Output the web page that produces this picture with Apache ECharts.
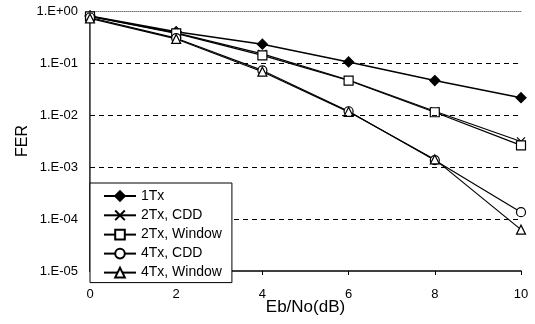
<!DOCTYPE html>
<html>
<head>
<meta charset="utf-8">
<script src="https://cdn.jsdelivr.net/npm/echarts@6/dist/echarts.min.js"></script>
<style>
html,body{margin:0;padding:0;background:#fff;}
#chart{width:535px;height:324px;}
</style>
</head>
<body>
<div id="chart"></div>
<script>
// ---- data ----
var xValues = [0, 2, 4, 6, 8, 10];
var seriesNames = ['1Tx', '2Tx, CDD', '2Tx, Window', '4Tx, CDD', '4Tx, Window'];
var tx1 = [0.80, 0.40, 0.23, 0.105, 0.046, 0.0215];
var tx2cdd = [0.80, 0.38, 0.15, 0.047, 0.0118, 0.0031];
var tx2win = [0.79, 0.37, 0.14, 0.046, 0.0113, 0.0026];
var tx4cdd = [0.75, 0.30, 0.072, 0.0118, 0.00135, 0.000135];
var tx4win = [0.72, 0.29, 0.068, 0.0115, 0.0014, 0.0000625];
var yTickLabels = ['1.E-05', '1.E-04', '1.E-03', '1.E-02', '1.E-01', '1.E+00'];
var xTickLabels = ['0', '2', '4', '6', '8', '10'];
var gridLevels = [1e-1, 1e-2, 1e-3, 1e-4];

function pairs(arr) { return xValues.map(function (x, i) { return [x, arr[i]]; }); }

var FONT = 'Liberation Sans, Arial, sans-serif';
var crossPath = 'path://M0,0 L10,10 M10,0 L0,10';

function mk(name, data, symbol, size, fill, lw) {
  return {
    name: name, type: 'line', data: pairs(data),
    symbol: symbol, symbolSize: size,
    lineStyle: { color: '#000', width: lw },
    itemStyle: { color: fill, borderColor: '#000', borderWidth: 1.2 },
    emphasis: { disabled: true },
    animation: false
  };
}

var series = [
  mk(seriesNames[0], tx1, 'diamond', 10, '#000', 1.5),
  mk(seriesNames[1], tx2cdd, crossPath, 8, 'none', 1.2),
  mk(seriesNames[2], tx2win, 'rect', 9, '#fff', 1.2),
  mk(seriesNames[3], tx4cdd, 'circle', 9, '#fff', 1.2),
  mk(seriesNames[4], tx4win, 'triangle', 9, '#fff', 1.2)
];
series[4].markLine = {
  silent: true, symbol: 'none', label: { show: false }, precision: 12,
  lineStyle: { color: '#000', type: [5, 4], width: 1 },
  data: gridLevels.map(function (v) { return { yAxis: v }; }),
  animation: false
};

var chart = echarts.init(document.getElementById('chart'), null, { renderer: 'canvas' });
chart.setOption({
  animation: false,
  backgroundColor: '#fff',
  grid: { left: 90, right: 14, top: 11, bottom: 53 },
  legend: {
    orient: 'vertical', left: 90, top: 183,
    padding: [6, 10, 3, 13],
    itemWidth: 32, itemHeight: 12, itemGap: 5,
    borderColor: '#000', borderWidth: 1, backgroundColor: '#fff',
    textStyle: { fontFamily: FONT, fontSize: 14, color: '#000', lineHeight: 12 },
    data: seriesNames,
    z: 10
  },
  xAxis: [{
    type: 'value', min: 0, max: 10, interval: 2,
    name: 'Eb/No(dB)', nameLocation: 'middle', nameGap: 28, nameMoveOverlap: false,
    nameTextStyle: { fontFamily: FONT, fontSize: 17, color: '#000' },
    axisLine: { lineStyle: { color: '#000', width: 1.5 } },
    axisTick: { show: true, length: 4, lineStyle: { color: '#000' } },
    axisLabel: { fontFamily: FONT, fontSize: 13, color: '#000', margin: 17,
      formatter: function (v) { return xTickLabels[Math.round(v / 2)]; } },
    splitLine: { show: false }
  }, {
    type: 'value', min: 0, max: 10, position: 'top',
    axisLine: { show: true, lineStyle: { color: '#777', width: 1, type: 'dotted' } },
    axisTick: { show: false }, axisLabel: { show: false }, splitLine: { show: false }
  }],
  yAxis: [{
    type: 'log', logBase: 10, min: 1e-5, max: 1,
    name: 'FER', nameLocation: 'middle', nameGap: 59, nameRotate: 90, nameMoveOverlap: false,
    nameTextStyle: { fontFamily: FONT, fontSize: 16, color: '#000' },
    axisLine: { show: true, lineStyle: { color: '#000', width: 1.5 } },
    axisTick: { show: false },
    axisLabel: { fontFamily: FONT, fontSize: 13, color: '#000', margin: 12,
      formatter: function (v) { return yTickLabels[Math.round(Math.log10(v)) + 5]; } },
    splitLine: { show: false }
  }, {
    type: 'value', min: 0, max: 1, position: 'right',
    axisLine: { show: true, lineStyle: { color: '#777', width: 1, type: 'dotted' } },
    axisTick: { show: false }, axisLabel: { show: false }, splitLine: { show: false }
  }],
  series: series
});
</script>
</body>
</html>
